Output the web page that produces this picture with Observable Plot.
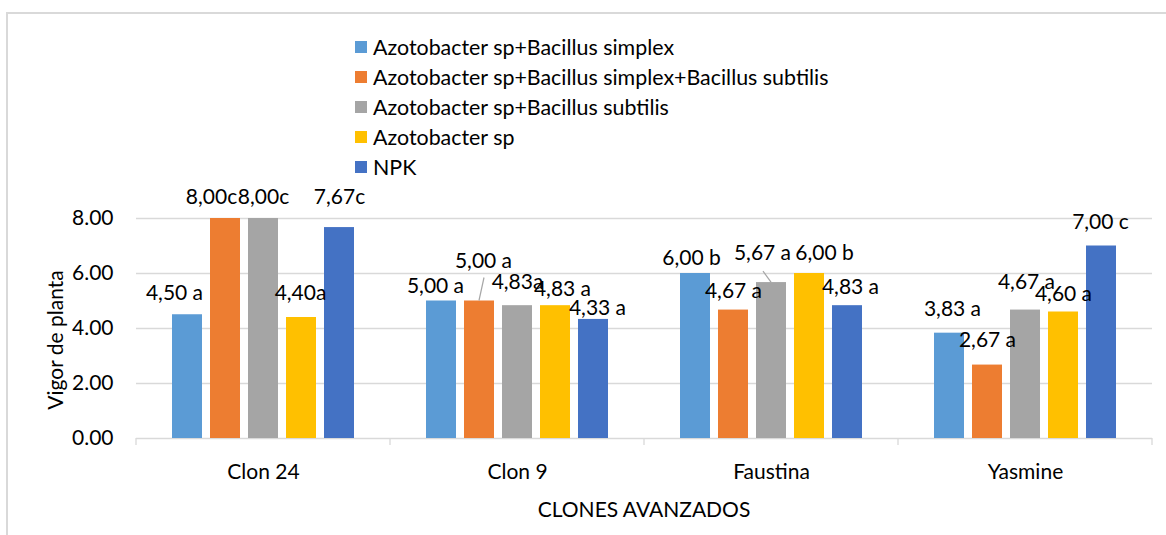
<!DOCTYPE html>
<html><head><meta charset="utf-8">
<script src="https://cdn.jsdelivr.net/npm/d3@7"></script>
<script src="https://cdn.jsdelivr.net/npm/@observablehq/plot@0.6"></script>
<style>
html,body{margin:0;padding:0;background:#fff;}
body{width:1166px;height:535px;overflow:hidden;position:relative;font-family:Lato,"Open Sans",sans-serif;color:#000;}
#frame{position:absolute;left:6px;top:12px;width:1200px;height:600px;border-left:2px solid #d9d9d9;border-top:2px solid #d9d9d9;}
#legend{position:absolute;left:355px;top:32px;}
.item{display:flex;align-items:center;height:30px;font-size:21.4px;white-space:nowrap;}
.sw{width:12px;height:12px;margin-right:6px;flex:none;}
#chart{position:absolute;left:0;top:185px;}
#ytitle{position:absolute;left:-45px;top:328px;width:200px;height:24px;line-height:24px;text-align:center;transform:rotate(-90deg);font-size:21px;white-space:nowrap;}
#xtitle{position:absolute;left:444px;top:497px;width:400px;height:24px;line-height:24px;text-align:center;font-size:21px;white-space:nowrap;}
</style></head><body>
<div id="frame"></div>
<div id="legend"></div>
<div id="chart"></div>
<div id="ytitle">Vigor de planta</div>
<div id="xtitle">CLONES AVANZADOS</div>
<script>
const clones = ["Clon 24", "Clon 9", "Faustina", "Yasmine"];
const treatments = [
  "Azotobacter sp+Bacillus simplex",
  "Azotobacter sp+Bacillus simplex+Bacillus subtilis",
  "Azotobacter sp+Bacillus subtilis",
  "Azotobacter sp",
  "NPK"
];
const colors = ["#5B9BD5", "#ED7D31", "#A5A5A5", "#FFC000", "#4472C4"];

const simplexValues         = [4.50, 5.00, 6.00, 3.83];
const simplexSubtilisValues = [8.00, 5.00, 4.67, 2.67];
const subtilisValues        = [8.00, 4.83, 5.67, 4.67];
const azotobacterValues     = [4.40, 4.83, 6.00, 4.60];
const npkValues             = [7.67, 4.33, 4.83, 7.00];

const simplexLabels         = ["4,50 a", "5,00 a", "6,00 b", "3,83 a"];
const simplexSubtilisLabels = ["8,00c", "5,00 a", "4,67 a", "2,67 a"];
const subtilisLabels        = ["8,00c", "4,83a", "5,67 a", "4,67 a"];
const azotobacterLabels     = ["4,40a", "4,83 a", "6,00 b", "4,60 a"];
const npkLabels             = ["7,67c", "4,33 a", "4,83 a", "7,00 c"];

const yTicks = [0, 2, 4, 6, 8];

const seriesValues = [simplexValues, simplexSubtilisValues, subtilisValues, azotobacterValues, npkValues];
const seriesLabels = [simplexLabels, simplexSubtilisLabels, subtilisLabels, azotobacterLabels, npkLabels];

const rows = [];
treatments.forEach((t, i) => clones.forEach((c, j) =>
  rows.push({clone: c, treatment: t, value: seriesValues[i][j], label: seriesLabels[i][j], ti: i, cj: j})));

// label placement nudges in pixels, [clone][treatment] -> [dx, dy] from bar top centre
const nudge = [
  [[-13, -21], [-14, -21], [0, -21], [-1, -24], [0, -30]],
  [[-6, -15], [4, -40], [0, -23], [7, -16], [4, -11]],
  [[-4, -15], [0, -19], [-9, -29], [15, -20], [3, -18]],
  [[3, -24], [0, -25], [1, -28], [0, -18], [-1, -24]]
];
// leader lines: [clone index, treatment index, dx, dy of upper end]
const leaders = [[1, 1, 5, -23], [2, 2, -8, -11]];

// legend
const legend = document.getElementById("legend");
treatments.forEach((t, i) => {
  const d = document.createElement("div"); d.className = "item";
  const s = document.createElement("div"); s.className = "sw"; s.style.background = colors[i];
  const l = document.createElement("span"); l.textContent = t;
  d.appendChild(s); d.appendChild(l); legend.appendChild(d);
});

const W = 1166, H = 350, ML = 135, MR = 13, MT = 33, MB = 97;
const FONT = "Lato, 'Open Sans', sans-serif";

const labelMarks = rows.map(r => Plot.text([r], {
  fx: "clone", x: "treatment", y: "value", text: "label",
  dx: nudge[r.cj][r.ti][0], dy: nudge[r.cj][r.ti][1],
  fontSize: 21, fill: "#000", lineAnchor: "middle"
}));

const plot = Plot.plot({
  width: W, height: H,
  marginLeft: ML, marginRight: MR, marginTop: MT, marginBottom: MB,
  style: {fontFamily: FONT, fontSize: "21px", color: "#000", background: "transparent", overflow: "visible"},
  fx: {domain: clones, padding: 0},
  x: {domain: treatments, paddingInner: 0.22, paddingOuter: 0.87, axis: null},
  y: {domain: [0, 8]},
  color: {domain: treatments, range: colors},
  marks: [
    Plot.gridY([2, 4, 6, 8], {stroke: "#d9d9d9", strokeOpacity: 1, strokeWidth: 1.3}),
    Plot.ruleY([0], {stroke: "#d9d9d9", strokeWidth: 1.3}),
    Plot.axisY({ticks: yTicks, tickFormat: d3.format(".2f"), tickSize: 0, tickPadding: 23, label: null, fontSize: 21}),
    Plot.axisFx({anchor: "bottom", tickSize: 0, tickPadding: 26, label: null, fontSize: 21}),
    Plot.barY(rows, {fx: "clone", x: "treatment", y: "value", fill: "treatment"}),
    ...labelMarks
  ]
});
document.getElementById("chart").appendChild(plot);

// category boundary ticks and leader lines, from the plot's scales
const fx = plot.scale("fx"), xs = plot.scale("x"), ys = plot.scale("y");
const svg = d3.select(plot);
const y0 = ys.apply(0);
const bounds = clones.map(c => fx.apply(c));
bounds.push(fx.apply(clones[clones.length - 1]) + fx.bandwidth);
svg.append("g").selectAll("line").data(bounds).join("line")
  .attr("x1", d => d).attr("x2", d => d).attr("y1", y0).attr("y2", y0 + 7)
  .attr("stroke", "#d9d9d9").attr("stroke-width", 1.3);
const off = c => fx.apply(c) - xs.range[0];
svg.append("g").selectAll("line").data(leaders).join("line")
  .each(function([cj, ti, dx, dy]) {
    const c = clones[cj], t = treatments[ti];
    const v = seriesValues[ti][cj];
    const x = off(c) + xs.apply(t) + xs.bandwidth / 2, y = ys.apply(v);
    d3.select(this).attr("x1", x).attr("y1", y).attr("x2", x + dx).attr("y2", y + dy);
  })
  .attr("stroke", "#a6a6a6").attr("stroke-width", 1.2);
</script>
</body></html>
